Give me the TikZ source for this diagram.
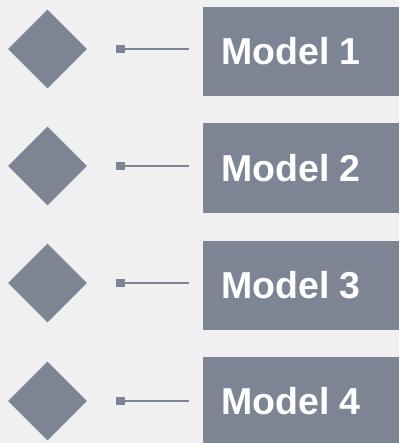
\documentclass[tikz,border=0pt]{standalone}
\usepackage{fontspec}
\setmainfont{Liberation Sans}
\usetikzlibrary{shapes.geometric}
\definecolor{bg}{HTML}{F0F0F0}
\definecolor{slate}{HTML}{7D8595}
\tikzset{
  px/.style={x=1pt,y=-1pt},
  gem/.style={diamond,fill=slate,inner sep=0pt,minimum width=79pt,minimum height=79pt},
  tip/.style={fill=slate,inner sep=0pt,minimum width=9pt,minimum height=8pt},
  wire/.style={draw=slate,line width=1.5pt},
  box/.style={fill=slate,inner sep=0pt,minimum width=196pt,minimum height=89pt,anchor=west},
  lbl/.style={text=white,font=\fontsize{37.5}{37.5}\selectfont\bfseries,anchor=west,inner sep=0pt}
}
\begin{document}
\begin{tikzpicture}[px]
\fill[bg] (0,0) rectangle (399,443);
\useasboundingbox (0,0) rectangle (399,443);
\foreach \i/\y/\by in {1/49/51.5,2/166/168,3/283/285,4/401/401.5}{
  \node[gem] (d\i) at (47.5,\y) {};
  \node[tip] (t\i) at (120.5,\y) {};
  \coordinate (e\i) at (189,\y);
  \draw[wire] (t\i.east) -- (e\i);
  \node[box] (b\i) at (203,\by) {};
  \node[lbl] (l\i) at (221,\by) {\vphantom{0}Model \i};
}
\end{tikzpicture}
\end{document}
